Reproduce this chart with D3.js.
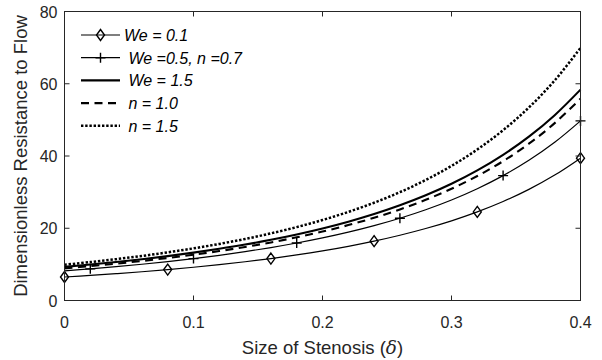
<!DOCTYPE html>
<html><head><meta charset="utf-8">
<script src="https://cdn.jsdelivr.net/npm/d3@7"></script>
<style>
html,body{margin:0;padding:0;background:#fff;}
text{font-family:"Liberation Sans",Arial,Helvetica,sans-serif;}
</style></head>
<body><svg id="c" width="602" height="360"></svg>
<script>
const xValues = [0,0.02,0.04,0.06,0.08,0.10,0.12,0.14,0.16,0.18,0.20,0.22,0.24,0.26,0.28,0.30,0.32,0.34,0.36,0.38,0.40];
const we01   = [6.50,6.94,7.43,7.96,8.55,9.20,9.92,10.72,11.61,12.61,13.73,15.00,16.43,18.06,19.92,22.06,24.53,27.40,30.76,34.72,39.41];
const we05n07 = [8.20,8.76,9.37,10.04,10.78,11.60,12.51,13.52,14.65,15.91,17.32,18.92,20.73,22.78,25.13,27.83,30.95,34.57,38.81,43.79,49.72];
const we15   = [9.30,9.95,10.65,11.43,12.29,13.25,14.31,15.48,16.80,18.27,19.93,21.81,23.93,26.35,29.12,32.31,36.01,40.31,45.35,51.30,58.37];
const n10    = [8.90,9.52,10.20,10.94,11.77,12.68,13.69,14.82,16.08,17.49,19.08,20.87,22.90,25.22,27.87,30.92,34.46,38.57,43.40,49.09,55.86];
const n15    = [9.90,10.63,11.44,12.33,13.33,14.43,15.66,17.03,18.58,20.32,22.28,24.52,27.07,29.99,33.36,37.26,41.81,47.14,53.43,60.92,69.91];
const xTicks = [0,0.1,0.2,0.3,0.4];
const xTickLabels = ["0","0.1","0.2","0.3","0.4"];
const yTicks = [0,20,40,60,80];
const yTickLabels = ["0","20","40","60","80"];
const diamondMarkerIdx = [0,4,8,12,16,20];
const plusMarkerIdx = [1,5,9,13,17,20];
const legendLabels = ["We = 0.1"," We =0.5, n =0.7"," We = 1.5"," n = 1.0"," n = 1.5"];

const series = [
  {vals: we01, width: 1.2, dash: null, marker: "diamond", idx: diamondMarkerIdx},
  {vals: we05n07, width: 1.2, dash: null, marker: "plus", idx: plusMarkerIdx},
  {vals: we15, width: 2.1, dash: null, marker: null},
  {vals: n10, width: 2.1, dash: "8,5.5", marker: null},
  {vals: n15, width: 2.5, dash: "2.4,1.8", marker: null}
];

const svg = d3.select("#c");
const L = 64.5, R = 580.5, T = 11.5, B = 300.5;
const x = d3.scaleLinear().domain([0,0.4]).range([L,R]);
const y = d3.scaleLinear().domain([0,80]).range([B,T]);
const axisColor = "#262626";

const lineGen = d3.line().x((d,i)=>x(xValues[i])).y(d=>y(d)).curve(d3.curveCatmullRom);

function drawMarker(sel, type, cx, cy){
  if(type==="diamond"){
    sel.append("path").attr("d",`M${cx},${cy-5.5}L${cx+4},${cy}L${cx},${cy+5.5}L${cx-4},${cy}Z`)
      .attr("fill","none").attr("stroke","#000").attr("stroke-width",1.4);
  } else if(type==="plus"){
    sel.append("path").attr("d",`M${cx-5},${cy}H${cx+5}M${cx},${cy-5}V${cy+5}`)
      .attr("fill","none").attr("stroke","#000").attr("stroke-width",1.4);
  }
}

const plot = svg.append("g");
series.forEach(s=>{
  plot.append("path").datum(s.vals).attr("d",lineGen)
    .attr("fill","none").attr("stroke","#000").attr("stroke-width",s.width)
    .attr("stroke-dasharray",s.dash);
  if(s.marker){
    s.idx.forEach(i=>drawMarker(plot, s.marker, x(xValues[i]), y(s.vals[i])));
  }
});

// box
const ax = svg.append("g").attr("stroke",axisColor).attr("fill","none").attr("stroke-width",1);
ax.append("rect").attr("x",L).attr("y",T).attr("width",R-L).attr("height",B-T);
xTicks.forEach(t=>{
  ax.append("line").attr("x1",x(t)).attr("x2",x(t)).attr("y1",B).attr("y2",B-5);
  ax.append("line").attr("x1",x(t)).attr("x2",x(t)).attr("y1",T).attr("y2",T+5);
});
yTicks.forEach(t=>{
  ax.append("line").attr("x1",L).attr("x2",L+5).attr("y1",y(t)).attr("y2",y(t));
  ax.append("line").attr("x1",R).attr("x2",R-5).attr("y1",y(t)).attr("y2",y(t));
});
xTicks.forEach((t,i)=>{
  svg.append("text").attr("x",x(t)).attr("y",B+27).attr("text-anchor","middle")
    .attr("font-size",16).attr("fill",axisColor).text(xTickLabels[i]);
});
yTicks.forEach((t,i)=>{
  svg.append("text").attr("x",L-7).attr("y",y(t)+6).attr("text-anchor","end")
    .attr("font-size",16).attr("fill",axisColor).text(yTickLabels[i]);
});
const xl = svg.append("text").attr("x",(L+R)/2).attr("y",354).attr("text-anchor","middle")
  .attr("font-size",18.5).attr("fill",axisColor);
xl.append("tspan").text("Size of Stenosis (");
xl.append("tspan").attr("font-style","italic").attr("font-family","'DejaVu Serif',serif").text("δ");
xl.append("tspan").text(")");
svg.append("text").attr("transform",`translate(27,${(T+B)/2}) rotate(-90)`).attr("text-anchor","middle")
  .attr("font-size",18.5).attr("fill",axisColor).text("Dimensionless Resistance to Flow");

const legY0 = 35, legDy = 22.7;
series.forEach((s,i)=>{
  const ly = legY0 + i*legDy;
  svg.append("line").attr("x1",81).attr("x2",120).attr("y1",ly).attr("y2",ly)
    .attr("stroke","#000").attr("stroke-width",s.width).attr("stroke-dasharray",s.dash);
  if(s.marker) drawMarker(svg, s.marker, 100.5, ly);
  svg.append("text").attr("x",124).attr("y",ly+6).attr("font-size",16).attr("font-style","italic")
    .attr("fill","#000").style("white-space","pre").text(legendLabels[i]);
});
</script></body></html>
